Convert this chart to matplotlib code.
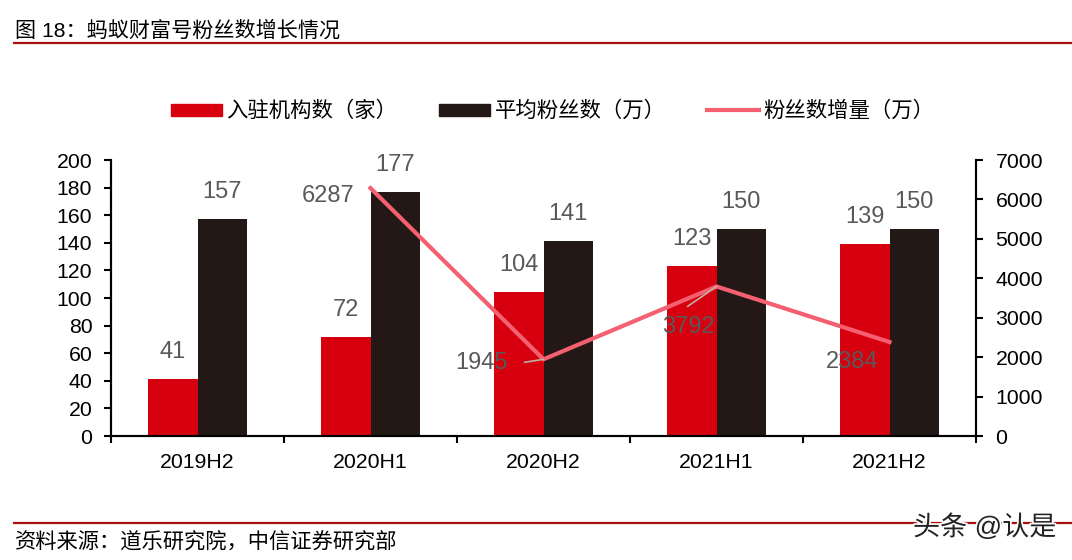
import numpy as np
import matplotlib
matplotlib.use("Agg")
import matplotlib.pyplot as plt
import matplotlib.patheffects as pe
from matplotlib.patches import Patch
from matplotlib.lines import Line2D

plt.rcParams['font.family'] = ['Liberation Sans', 'Noto Sans CJK SC', 'DejaVu Sans']

periods = ["2019H2", "2020H1", "2020H2", "2021H1", "2021H2"]
institutions = [41, 72, 104, 123, 139]
avg_fans = [157, 177, 141, 150, 150]
fan_growth = [None, 6287, 1945, 3792, 2384]

RED = "#D7000F"
DARK = "#231815"
PINK = "#F4606F"
LABEL = "#595959"
RULE = "#A80F0F"
W, H = 1072, 560


def px(v):
    return v * 0.72


fig = plt.figure(figsize=(W / 100, H / 100), dpi=100)
ax = fig.add_axes([111 / W, 1 - 436 / H, 865 / W, 276 / H])
x = np.arange(len(periods))
bw = 49.5 / 173

ax.bar(x - bw / 2, institutions, bw, color=RED, zorder=2)
ax.bar(x + bw / 2, avg_fans, bw, color=DARK, zorder=2)
ax.set_xlim(-0.5, 4.5)
ax.set_ylim(0, 200)
ax.set_yticks(range(0, 201, 20))
ax.set_xticks(np.arange(-0.5, 5, 1))
ax.set_xticklabels([])
ax.set_xticks(x, periods, minor=True)
ax.tick_params(axis='x', which='major', length=5, width=1.5, direction='out')
ax.tick_params(axis='x', which='minor', length=0, labelsize=15.3, pad=12.5)
ax.tick_params(axis='y', length=5, width=1.5, direction='out', labelsize=15.3, pad=8.5)

ax2 = ax.twinx()
ax2.set_ylim(0, 7000)
ax2.set_yticks(range(0, 7001, 1000))
ax2.tick_params(axis='y', length=5, width=1.5, direction='out', labelsize=15.3, pad=9)
ax2.plot(x[1:], fan_growth[1:], color=PINK, lw=3, solid_joinstyle='miter', zorder=3)

for a in (ax, ax2):
    a.spines['top'].set_visible(False)
    for s in ('left', 'right', 'bottom'):
        a.spines[s].set_linewidth(1.5)

# bar labels, offset in pixels above the bar top
for i, v in enumerate(institutions):
    ax.annotate(str(v), (i - bw / 2, v), xytext=(0, px(27)), textcoords='offset points',
                ha='center', va='center', fontsize=17, color=LABEL)
for i, v in enumerate(avg_fans):
    ax.annotate(str(v), (i + bw / 2, v), xytext=(0, px(27)), textcoords='offset points',
                ha='center', va='center', fontsize=17, color=LABEL)

# line labels, offsets in pixels from each point
offsets = [None, (-42, -8), (-62, -4), (-28, -41), (-37, -20)]
for i in range(1, 5):
    ax2.annotate(str(fan_growth[i]), (i, fan_growth[i]),
                 xytext=(px(offsets[i][0]), px(offsets[i][1])), textcoords='offset points',
                 ha='center', va='center', fontsize=17, color=LABEL, zorder=5)

# leader lines for 1945 and 3792
ax2.annotate("", (2, fan_growth[2]), xytext=(px(-19), px(-3)), textcoords='offset points',
             arrowprops=dict(arrowstyle='-', color="#BFB0A8", lw=1.2, shrinkA=0, shrinkB=0), zorder=4)
ax2.annotate("", (3, fan_growth[3]), xytext=(px(-29), px(-20)), textcoords='offset points',
             arrowprops=dict(arrowstyle='-', color="#BFB0A8", lw=1.2, shrinkA=0, shrinkB=0), zorder=4)

handles = [Patch(color=RED), Patch(color=DARK), Line2D([], [], color=PINK, lw=3)]
names = ["入驻机构数（家）", "平均粉丝数（万）", "粉丝数增量（万）"]
fig.legend(handles, names, ncol=3, frameon=False, fontsize=15.4,
           loc='center left', bbox_to_anchor=(162 / W, 1 - 111 / H),
           handlelength=2.4, handleheight=0.5, handletextpad=0.2, columnspacing=1.95,
           borderaxespad=0, labelcolor='black')

fig.text(15 / W, 1 - 30 / H, "图 18：蚂蚁财富号粉丝数增长情况", fontsize=15.2, va='center', ha='left')
fig.text(15 / W, 1 - 541 / H, "资料来源：道乐研究院，中信证券研究部", fontsize=15.3, va='center', ha='left')
fig.add_artist(Line2D([14 / W, 1], [1 - 43 / H] * 2, color=RULE, lw=1.6))
fig.add_artist(Line2D([14 / W, 1], [1 - 522.5 / H] * 2, color=RULE, lw=1.6))

wm = fig.text(913 / W, 1 - 528 / H, "头条 @认是", fontsize=19.5, va='center', ha='left', color='#222222')
wm.set_path_effects([pe.withStroke(linewidth=2.5, foreground='white')])

fig.savefig("out.png", dpi=100)
